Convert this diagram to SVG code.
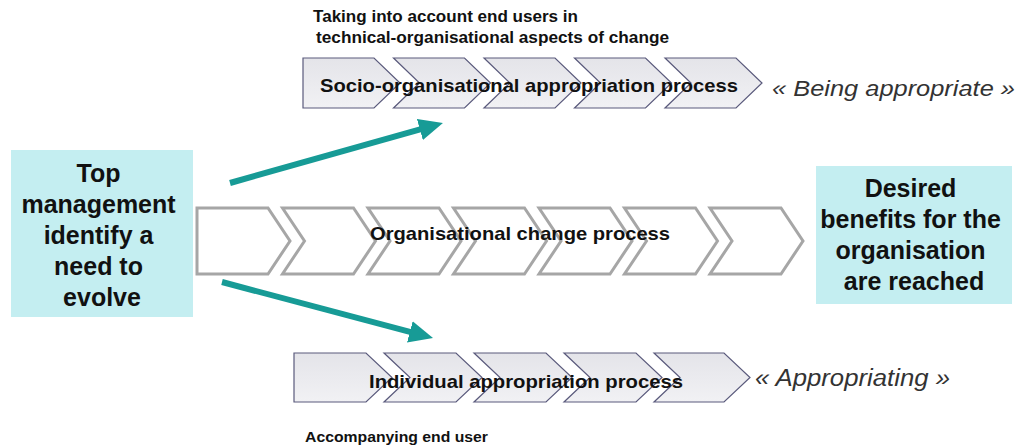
<svg xmlns="http://www.w3.org/2000/svg" width="1019" height="445" viewBox="0 0 1019 445">
<style>
.t{font-family:"Liberation Sans",Arial,sans-serif;font-weight:bold;fill:#111}
.it{font-family:"Liberation Sans",Arial,sans-serif;font-style:italic;fill:#333}
.box{fill:#c4eef1}
.gc{fill:url(#gg);stroke:#5a5a7c;stroke-width:1.2}
.wc{fill:#fff;stroke:#a6a6a6;stroke-width:3}
.ar{stroke:#179b96;stroke-width:6;fill:none;marker-end:url(#ah)}
</style>
<defs>
<linearGradient id="gg" x1="0" y1="0" x2="0" y2="1">
<stop offset="0" stop-color="#e4e4e9"/>
<stop offset="1" stop-color="#f1f1f4"/>
</linearGradient>
<marker id="ah" markerUnits="userSpaceOnUse" markerWidth="24" markerHeight="22" refX="4" refY="11" orient="auto" viewBox="0 0 24 22">
<path d="M0,0 L24,11 L0,22 z" fill="#179b96"/>
</marker>
</defs>
<rect width="1019" height="445" fill="#fff"/>

<g id="note-top">
<text class="t" x="313" y="22" font-size="16" textLength="265" lengthAdjust="spacingAndGlyphs">Taking into account end users in</text>
<text class="t" x="316" y="43" font-size="16" textLength="353" lengthAdjust="spacingAndGlyphs">technical-organisational aspects of change</text>
</g>

<g id="socio-process">
<path class="gc" d="M303,58 H374 L400,83 L374,108 H303 Z"/>
<path class="gc" d="M393.5,58 H464.5 L490.5,83 L464.5,108 H393.5 L419.5,83 Z"/>
<path class="gc" d="M484,58 H555 L581,83 L555,108 H484 L510,83 Z"/>
<path class="gc" d="M574.5,58 H645.5 L671.5,83 L645.5,108 H574.5 L600.5,83 Z"/>
<path class="gc" d="M665,58 H736 L762,83 L736,108 H665 L691,83 Z"/>
<text class="t" x="320" y="92" font-size="19" textLength="418" lengthAdjust="spacingAndGlyphs">Socio-organisational appropriation process</text>
</g>
<text class="it" x="772" y="96" font-size="22" textLength="243" lengthAdjust="spacingAndGlyphs">« Being appropriate »</text>

<g id="top-management">
<rect class="box" x="11" y="150" width="182" height="167"/>
<text class="t" font-size="25" text-anchor="middle">
<tspan x="102" y="182">Top</tspan>
<tspan x="102" y="213">management</tspan>
<tspan x="102" y="244">identify a</tspan>
<tspan x="102" y="275">need to</tspan>
<tspan x="102" y="306">evolve</tspan>
</text>
</g>

<g id="org-change-process">
<path class="wc" d="M197,208 H268 L290,241 L268,274 H197 Z"/>
<path class="wc" d="M282.5,208 H353.5 L375.5,241 L353.5,274 H282.5 L304.5,241 Z"/>
<path class="wc" d="M368,208 H439 L461,241 L439,274 H368 L390,241 Z"/>
<path class="wc" d="M453.5,208 H524.5 L546.5,241 L524.5,274 H453.5 L475.5,241 Z"/>
<path class="wc" d="M539,208 H610 L632,241 L610,274 H539 L561,241 Z"/>
<path class="wc" d="M624.5,208 H695.5 L717.5,241 L695.5,274 H624.5 L646.5,241 Z"/>
<path class="wc" d="M710,208 H781 L803,241 L781,274 H710 L732,241 Z"/>
<text class="t" x="370" y="240" font-size="19" textLength="300" lengthAdjust="spacingAndGlyphs">Organisational change process</text>
</g>

<g id="desired-benefits">
<rect class="box" x="816" y="166" width="196" height="138"/>
<text class="t" font-size="25" text-anchor="middle">
<tspan x="914" y="197">Desired</tspan>
<tspan x="914" y="228">benefits for the</tspan>
<tspan x="914" y="259">organisation</tspan>
<tspan x="914" y="290">are reached</tspan>
</text>
</g>

<g id="individual-process">
<path class="gc" d="M294,353 H366 L392,377.5 L366,402 H294 Z"/>
<path class="gc" d="M384,353 H456 L482,377.5 L456,402 H384 L410,377.5 Z"/>
<path class="gc" d="M474,353 H546 L572,377.5 L546,402 H474 L500,377.5 Z"/>
<path class="gc" d="M564,353 H636 L662,377.5 L636,402 H564 L590,377.5 Z"/>
<path class="gc" d="M654,353 H724 L750,377.5 L724,402 H654 L680,377.5 Z"/>
<text class="t" x="369" y="388" font-size="19" textLength="314" lengthAdjust="spacingAndGlyphs">Individual appropriation process</text>
</g>
<text class="it" x="755" y="386" font-size="23" textLength="195" lengthAdjust="spacingAndGlyphs">« Appropriating »</text>

<g id="note-bottom">
<text class="t" x="305" y="442" font-size="15" textLength="183" lengthAdjust="spacingAndGlyphs">Accompanying end user</text>
</g>

<g id="connectors">
<line class="ar" x1="230" y1="183" x2="423.7" y2="128.4"/>
<line class="ar" x1="222" y1="282" x2="413.7" y2="332.9"/>
</g>
</svg>
